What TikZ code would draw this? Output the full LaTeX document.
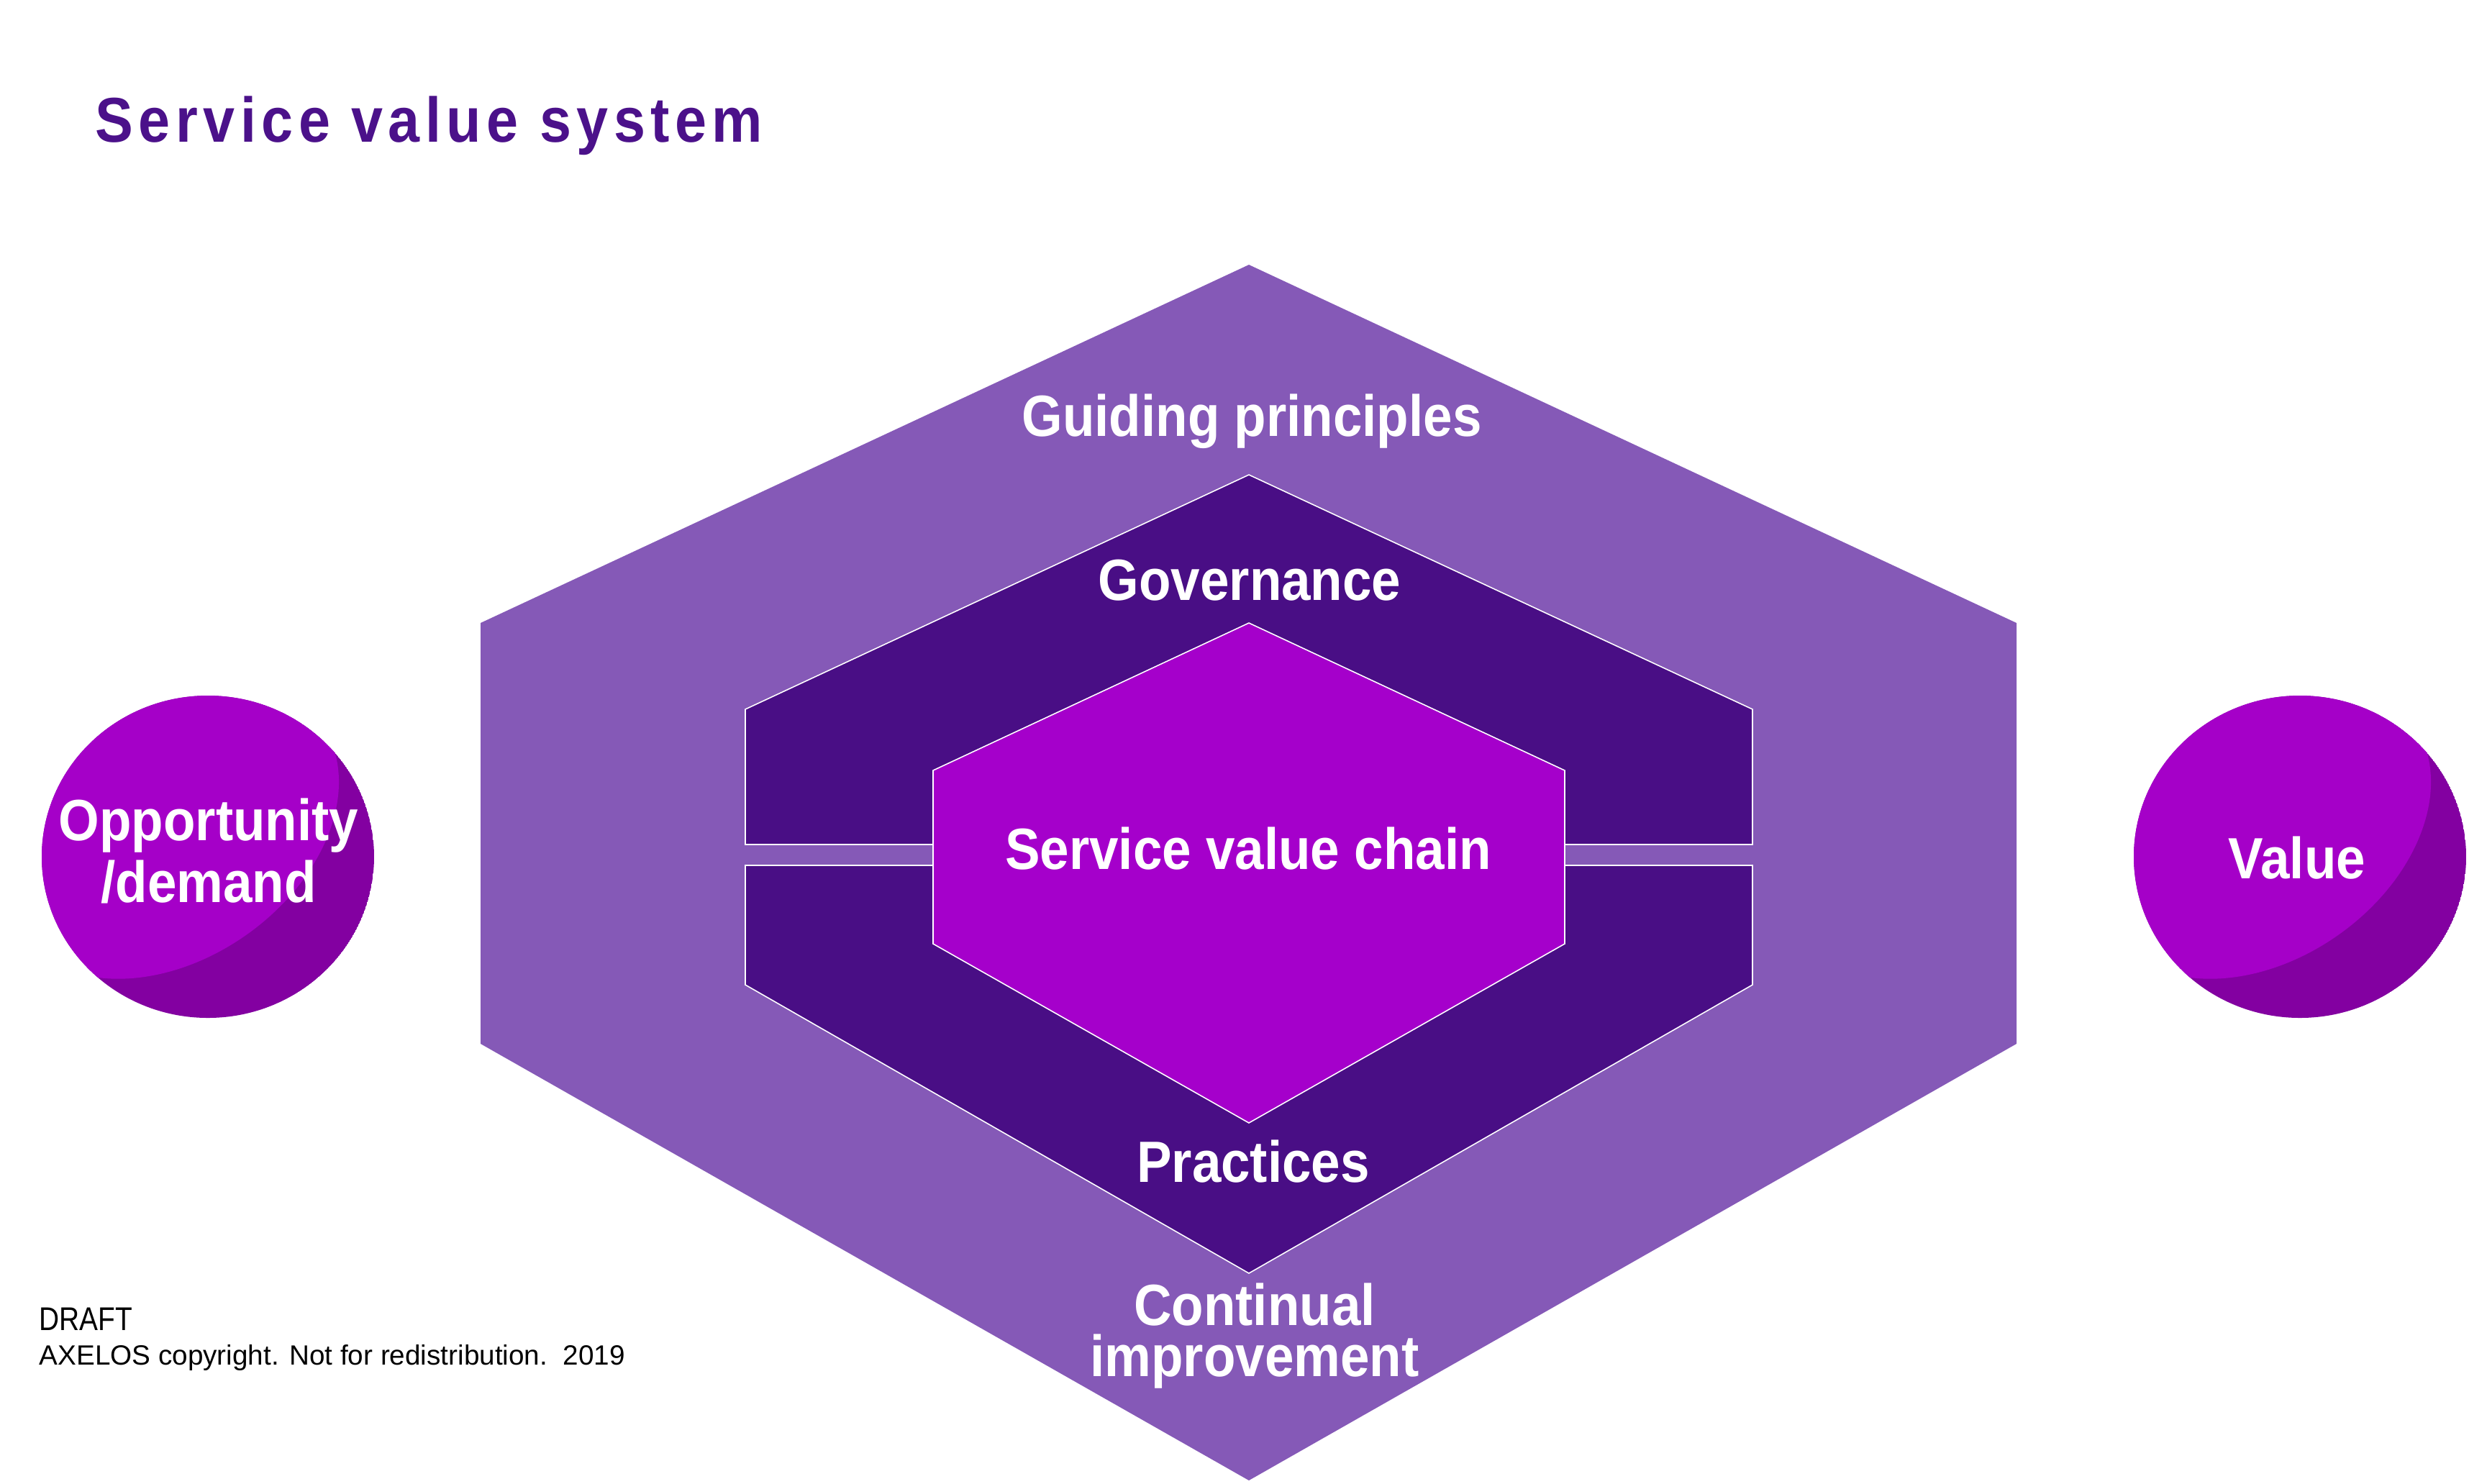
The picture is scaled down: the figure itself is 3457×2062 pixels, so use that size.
\documentclass[tikz,border=0pt]{standalone}
\usepackage{fontspec}
\setmainfont{Liberation Sans}
\newfontfamily\condfont[FakeStretch=0.9]{Liberation Sans}
\newfontfamily\headfont[FakeStretch=0.9,LetterSpace=8.5]{Liberation Sans}
\newfontfamily\draftfont[FakeStretch=0.85]{Liberation Sans}

\definecolor{svsouter}{RGB}{133,89,183}
\definecolor{svsdark}{RGB}{73,14,133}
\definecolor{svschain}{RGB}{165,0,203}
\definecolor{svsball}{RGB}{165,0,200}
\definecolor{svsballshade}{RGB}{131,0,161}
\definecolor{svstitle}{RGB}{75,17,138}

\begin{document}
\begin{tikzpicture}[x=0.01cm, y=-0.01cm,
    lbl/.style={text=white, inner sep=0pt, align=center,
      font=\condfont\bfseries\fontsize{23}{20}\selectfont},
    rim/.style={draw=white, line width=0.45pt, line join=miter}]
  \useasboundingbox (0,0) rectangle (3457,2062);

  \node[anchor=base west, inner sep=0pt, text=svstitle,
    font=\headfont\bfseries\fontsize{25}{30}\selectfont] (title) at (132,197) {Service value system};

  % hexagons, outside in
  \fill[svsouter] (668,866) -- (1736,368) -- (2803,866) -- (2803,1451)
    -- (1736,2058) -- (668,1451) -- cycle;
  \path[fill=svsdark, rim] (1036,1174) -- (1036,986) -- (1736,660) -- (2436,986)
    -- (2436,1174) -- cycle;
  \path[fill=svsdark, rim] (1036,1203) -- (2436,1203) -- (2436,1369) -- (1736,1770)
    -- (1036,1369) -- cycle;
  \path[fill=svschain, rim] (1297,1071) -- (1736,866) -- (2175,1071) -- (2175,1312)
    -- (1736,1561) -- (1297,1312) -- cycle;

  % the two balls
  \foreach \bx in {289,3197}{
    \begin{scope}
      \clip (\bx,1191) ellipse [x radius=231, y radius=224];
      \fill[svsballshade] (\bx,1191) ellipse [x radius=231, y radius=224];
      \fill[svsball, rotate around={35:(\bx-51,1153)}] (\bx-51,1153)
        ellipse [x radius=255, y radius=180];
    \end{scope}
  }

  \node[lbl, anchor=base] (principles) at (1740,606) {Guiding principles};
  \node[lbl, anchor=base] (governance) at (1737,834) {Governance};
  \node[lbl, anchor=base] (chain) at (1735,1208) {Service value chain};
  \node[lbl, anchor=base] (practices) at (1742,1643) {Practices};
  \node[lbl] (improvement) at (1744,1857) {Continual\\improvement};
  \node[lbl, font=\condfont\bfseries\fontsize{23}{24.5}\selectfont] (demand) at (290,1183)
    {Opportunity\\/demand};
  \node[lbl, anchor=base] (value) at (3193,1221) {Value};

  \node[anchor=base west, inner sep=0pt, font=\draftfont\fontsize{13}{15}\selectfont] (draft)
    at (54,1849) {DRAFT};
  \node[anchor=base west, inner sep=0pt, font=\fontsize{11}{13}\selectfont] (copyright)
    at (54,1897) {AXELOS copyright. Not for redistribution.\ \ 2019};
\end{tikzpicture}
\end{document}
